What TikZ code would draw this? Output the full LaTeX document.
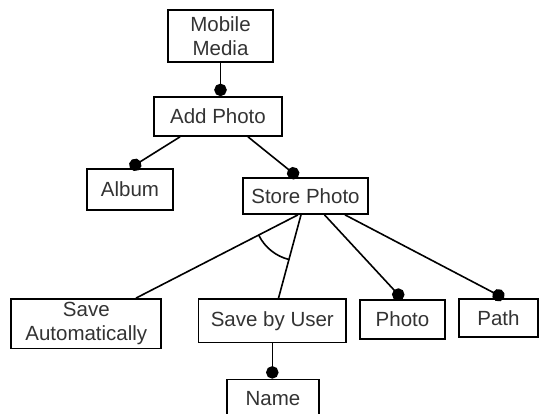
\documentclass[tikz,border=0pt]{standalone}
\usepackage{fontspec}
\setmainfont{Liberation Sans}
\usetikzlibrary{arrows.meta}

\tikzset{
  feature/.style={draw,line width=1.7pt,inner sep=0pt,align=center,
    text=black!80,font=\fontsize{20.5}{24.5}\selectfont},
  link/.style={line width=1.6pt},
  mandatory/.style={link,-{Circle[length=12.5pt,width=12.5pt]}},
}

\begin{document}
\begin{tikzpicture}[x=1pt,y=1pt]
    \useasboundingbox (0,0) rectangle (539,-414);
    \clip (0,0) rectangle (539,-414);
    % features
    \node[feature,minimum width=105pt,minimum height=52pt] (media) at (220.5,-36) {Mobile\\Media};
    \node[feature,minimum width=128pt,minimum height=39pt] (add) at (218,-116.5) {Add Photo};
    \node[feature,minimum width=86pt,minimum height=41pt] (alb) at (130,-189.5) {Album};
    \node[feature,minimum width=125pt,minimum height=36pt] (sto) at (305.5,-196) {Store Photo};
    \node[feature,minimum width=150pt,minimum height=49.5pt] (auto) at (86.3,-323.7) {Save\\Automatically};
    \node[feature,minimum width=147.5pt,minimum height=43.5pt] (user) at (272.3,-320.8) {Save by User};
    \node[feature,minimum width=85pt,minimum height=39pt] (pho) at (402.5,-319.5) {Photo};
    \node[feature,minimum width=79pt,minimum height=38pt] (pat) at (498.5,-318) {Path};
    \node[feature,minimum width=92pt,minimum height=39pt] (name) at (273,-399) {Name};
    % connectors
    \draw[mandatory] (media.south) -- (media.south |- add.north);
    \draw[mandatory] ([xshift=-38pt]add.south) -- (alb.north);
    \draw[mandatory] ([xshift=30pt]add.south) -- ([xshift=-7.5pt]sto.north);
    \draw[link] ([xshift=-7.5pt]sto.south) -- ([xshift=49.7pt]auto.north);
    \draw[link] ([xshift=-4.5pt]sto.south) -- ([xshift=6.2pt]user.north);
    \draw[mandatory] ([xshift=19pt]sto.south) -- (pho.north);
    \draw[mandatory] ([xshift=39.5pt]sto.south) -- ([xshift=5.5pt]pat.north);
    \draw[mandatory] (user.south) -- (user.south |- name.north);
    % alternative group
    \draw[link] ([xshift=-5.5pt]sto.south) ++(206.6:46) arc (206.6:256.4:46);
\end{tikzpicture}
\end{document}
